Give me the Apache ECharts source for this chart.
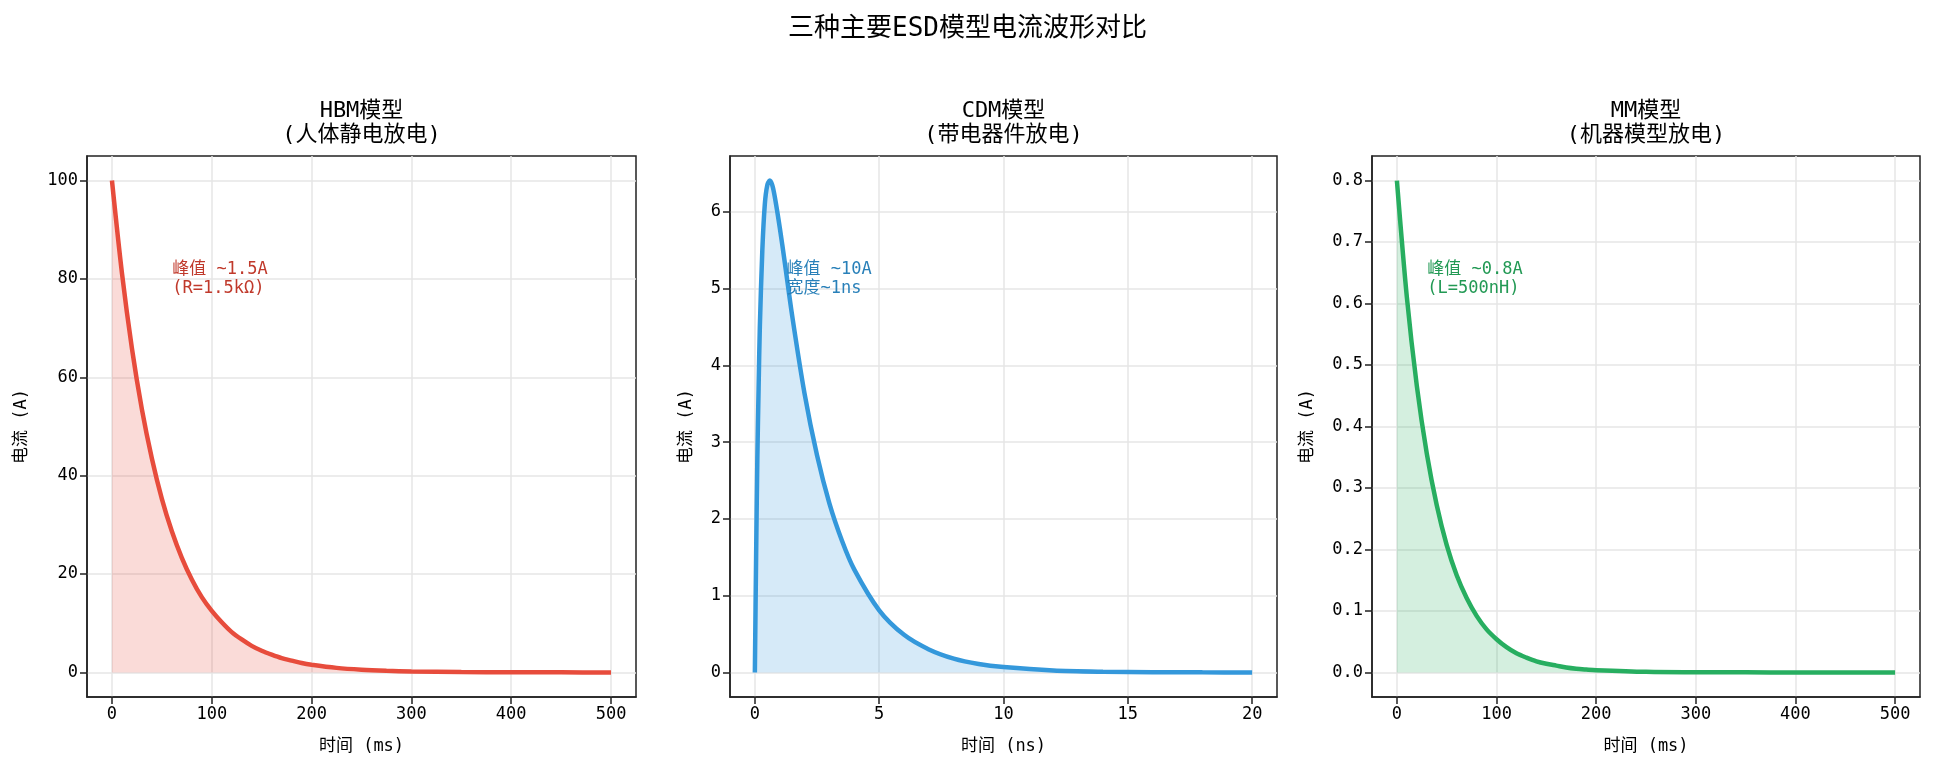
<!DOCTYPE html>
<html>
<head>
<meta charset="utf-8">
<script src="https://cdn.jsdelivr.net/npm/echarts@6/dist/echarts.min.js"></script>
<style>
	html, body { margin: 0; padding: 0; background: #fff; }
	#chart { width: 1935px; height: 772px; }
</style>
</head>
<body>
<div id="chart"></div>
<script>
// values
const hbmTime = [0, 10, 20, 30, 40, 50, 60, 70, 80, 90, 100, 110, 120, 130, 140, 150, 160, 170, 180, 190, 200, 225, 250, 275, 300, 350, 400, 450, 500];
const hbmCurrent = [100, 81.2, 65.9, 53.5, 43.5, 35.3, 28.7, 23.3, 18.9, 15.3, 12.5, 10.2, 8.2, 6.7, 5.4, 4.4, 3.6, 2.9, 2.4, 1.9, 1.55, 0.92, 0.55, 0.33, 0.19, 0.07, 0.03, 0.01, 0];

const cdmTime = [0, 0.05, 0.1, 0.15, 0.2, 0.3, 0.4, 0.5, 0.6, 0.7, 0.8, 1, 1.2, 1.5, 2, 2.5, 3, 3.5, 4, 5, 6, 7, 8, 9, 10, 12, 14, 16, 18, 20];
const cdmCurrent = [0, 1.5, 2.8, 3.7, 4.5, 5.5, 6.1, 6.35, 6.41, 6.35, 6.2, 5.8, 5.35, 4.65, 3.63, 2.83, 2.2, 1.72, 1.34, 0.81, 0.49, 0.3, 0.18, 0.11, 0.07, 0.025, 0.009, 0.003, 0.001, 0];

const mmTime = [0, 10, 20, 30, 40, 50, 60, 70, 80, 90, 100, 110, 120, 130, 140, 150, 160, 170, 180, 190, 200, 250, 300, 350, 400, 450, 500];
const mmCurrent = [0.8, 0.61, 0.466, 0.356, 0.272, 0.207, 0.158, 0.121, 0.092, 0.07, 0.054, 0.041, 0.031, 0.024, 0.018, 0.014, 0.011, 0.008, 0.006, 0.0047, 0.0036, 0.0009, 0.0002, 0.0001, 0, 0, 0];

const msTicks = [0, 100, 200, 300, 400, 500];
const nsTicks = [0, 5, 10, 15, 20];
const hbmTicks = [0, 20, 40, 60, 80, 100];
const cdmTicks = [0, 1, 2, 3, 4, 5, 6];
const mmTicks = [0, 0.1, 0.2, 0.3, 0.4, 0.5, 0.6, 0.7, 0.8];

const panelTitles = ["HBM模型\n(人体静电放电)", "CDM模型\n(带电器件放电)", "MM模型\n(机器模型放电)"];
const notes = ["峰值 ~1.5A\n(R=1.5kΩ)", "峰值 ~10A\n宽度~1ns", "峰值 ~0.8A\n(L=500nH)"];
const notePos = [[60, 80], [1.25, 5.13], [30, 0.64]];

const font = "'DejaVu Sans Mono', 'Noto Sans CJK SC'";
const lineColors = ["#e74c3c", "#3498db", "#27ae60"];
const noteColors = ["#c0392b", "#2980b9", "#229954"];

const grids = [
	{ left: 87, top: 156, width: 549, height: 541 },
	{ left: 730, top: 156, width: 547, height: 541 },
	{ left: 1372, top: 156, width: 548, height: 541 },
];

function axis(gridIndex, min, max, ticks, fmt, name, nameGap) {
	return {
		type: "value",
		gridIndex: gridIndex,
		min: min,
		max: max,
		name: name,
		nameLocation: "middle",
		nameGap: nameGap,
		nameTextStyle: { fontSize: 17, color: "#000", fontFamily: font },
		axisLine: { show: true, onZero: false, lineStyle: { color: "#222", width: 1.5 } },
		axisTick: { show: true, length: 7, customValues: ticks, lineStyle: { color: "#222", width: 1.5 } },
		axisLabel: { customValues: ticks, formatter: fmt, fontSize: 17, color: "#000", fontFamily: font, margin: 9 },
		splitLine: { show: true, lineStyle: { color: "#e6e6e6", width: 1.5 } },
	};
}

const plain = (v) => String(v);
const oneDecimal = (v) => v.toFixed(1);

function pairs(xs, ys) {
	return xs.map((x, i) => [x, ys[i]]);
}

function series(i, xs, ys) {
	return {
		type: "line",
		xAxisIndex: i,
		yAxisIndex: i,
		data: pairs(xs, ys),
		smooth: 0.3,
		showSymbol: false,
		lineStyle: { color: lineColors[i], width: 4.5 },
		itemStyle: { color: lineColors[i] },
		areaStyle: { color: lineColors[i], opacity: 0.2 },
		markPoint: {
			symbol: "circle",
			symbolSize: 1,
			itemStyle: { color: "rgba(0,0,0,0)" },
			data: [{ coord: notePos[i] }],
			label: {
				show: true,
				position: "right",
				distance: 0,
				formatter: notes[i],
				color: noteColors[i],
				fontSize: 17,
				lineHeight: 19,
				fontFamily: font,
			},
		},
	};
}

const titles = [
	{
		text: "三种主要ESD模型电流波形对比",
		left: "center",
		top: 16,
		padding: 0,
		textStyle: { fontSize: 26, fontWeight: "normal", color: "#000", fontFamily: font },
	},
];
grids.forEach((g, i) => {
	titles.push({
		text: panelTitles[i],
		left: g.left + g.width / 2,
		top: 99,
		padding: 0,
		textAlign: "center",
		textStyle: { fontSize: 22, lineHeight: 24, fontWeight: "normal", color: "#000", fontFamily: font },
	});
});

const option = {
	animation: false,
	backgroundColor: "#fff",
	title: titles,
	grid: grids.map((g) => Object.assign({ show: true, borderColor: "#222", borderWidth: 1.5 }, g)),
	xAxis: [
		axis(0, -25, 525, msTicks, plain, "时间 (ms)", 41),
		axis(1, -1, 21, nsTicks, plain, "时间 (ns)", 41),
		axis(2, -25, 525, msTicks, plain, "时间 (ms)", 41),
	],
	yAxis: [
		axis(0, -5, 105, hbmTicks, plain, "电流 (A)", 57),
		axis(1, -0.32, 6.73, cdmTicks, plain, "电流 (A)", 35),
		axis(2, -0.04, 0.84, mmTicks, oneDecimal, "电流 (A)", 56),
	],
	series: [
		series(0, hbmTime, hbmCurrent),
		series(1, cdmTime, cdmCurrent),
		series(2, mmTime, mmCurrent),
	],
};

const chart = echarts.init(document.getElementById("chart"));
chart.setOption(option);
</script>
</body>
</html>
